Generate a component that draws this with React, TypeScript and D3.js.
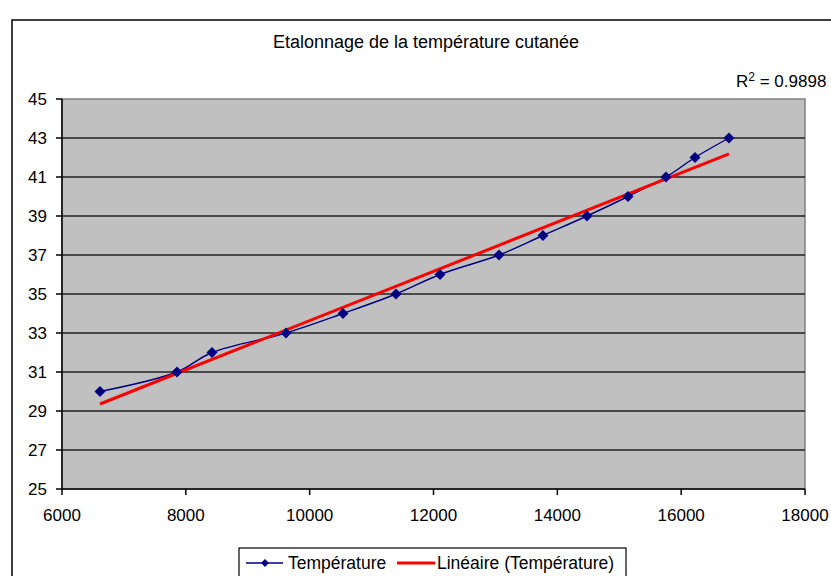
import React from "react";
import * as d3 from "d3";

// readings of the calibration points (sensor value -> temperature °C)
const sensorValues: number[] = [6614, 7857, 8423, 9618, 10538, 11394, 12105, 13058, 13768, 14479, 15141, 15755, 16223, 16772];
const temperatures: number[] = [30, 31, 32, 33, 34, 35, 36, 37, 38, 39, 40, 41, 42, 43];

const xTicks: number[] = [6000, 8000, 10000, 12000, 14000, 16000, 18000];
const yTicks: number[] = [25, 27, 29, 31, 33, 35, 37, 39, 41, 43, 45];

const title = "Etalonnage de la température cutanée";
const seriesName = "Température";
const trendName = "Linéaire (Température)";
const r2Label = "0.9898";

const FONT = "'Liberation Sans', Arial, sans-serif";

export default function App() {
    const width = 831;
    const height = 576;
    const plot = { left: 62, top: 99, right: 805, bottom: 489 };

    const x = d3.scaleLinear().domain([6000, 18000]).range([plot.left, plot.right]);
    const y = d3.scaleLinear().domain([25, 45]).range([plot.bottom, plot.top]);

    // least squares fit, like Excel's linear trendline
    const mx: number = d3.mean(sensorValues)!;
    const my: number = d3.mean(temperatures)!;
    let sxy = 0, sxx = 0;
    sensorValues.forEach((v, i) => {
        sxy += (v - mx) * (temperatures[i] - my);
        sxx += (v - mx) * (v - mx);
    });
    const slope = sxy / sxx;
    const intercept = my - slope * mx;
    const xMin = d3.min(sensorValues)!;
    const xMax = d3.max(sensorValues)!;

    const pts: [number, number][] = sensorValues.map((v, i) => [v, temperatures[i]]);
    const smooth = d3.line<[number, number]>()
        .x(d => x(d[0]))
        .y(d => y(d[1]))
        .curve(d3.curveCatmullRom.alpha(0.5));

    const diamond = (cx: number, cy: number, r: number) =>
        `M${cx},${cy - r}L${cx + r},${cy}L${cx},${cy + r}L${cx - r},${cy}Z`;

    return (
        <svg width={width} height={height} style={{ position: "absolute", left: 0, top: 0, background: "#fff" }}
            fontFamily={FONT}>
            {/* chart frame */}
            <rect x={12} y={20} width={width} height={height} fill="#fff" stroke="#000" strokeWidth={1.5} />

            <text x={426} y={48} textAnchor="middle" fontSize={18} fill="#000">{title}</text>

            <text x={736} y={87} fontSize={17} fill="#000">
                R<tspan dy={-6} fontSize={12}>2</tspan><tspan dy={6}> = {r2Label}</tspan>
            </text>

            {/* plot area */}
            <rect x={plot.left} y={plot.top} width={plot.right - plot.left} height={plot.bottom - plot.top}
                fill="#c0c0c0" stroke="#808080" strokeWidth={1.5} />
            {yTicks.slice(1, -1).map(t => (
                <line key={t} x1={plot.left} x2={plot.right} y1={y(t)} y2={y(t)} stroke="#222" strokeWidth={1.6} />
            ))}

            {/* axes */}
            <line x1={plot.left} x2={plot.left} y1={plot.top} y2={plot.bottom} stroke="#000" strokeWidth={1.5} />
            <line x1={plot.left} x2={plot.right} y1={plot.bottom} y2={plot.bottom} stroke="#000" strokeWidth={1.5} />
            {yTicks.map(t => (
                <g key={t}>
                    <line x1={plot.left - 6} x2={plot.left} y1={y(t)} y2={y(t)} stroke="#000" strokeWidth={1.5} />
                    <text x={47} y={y(t) + 6} textAnchor="end" fontSize={17} fill="#000">{t}</text>
                </g>
            ))}
            {xTicks.map(t => (
                <g key={t}>
                    <line x1={x(t)} x2={x(t)} y1={plot.bottom} y2={plot.bottom + 6} stroke="#000" strokeWidth={1.5} />
                    <text x={x(t)} y={521} textAnchor="middle" fontSize={17} fill="#000">{t}</text>
                </g>
            ))}

            {/* series */}
            <path d={smooth(pts) ?? ""} fill="none" stroke="#000080" strokeWidth={1.4} />
            <line x1={x(xMin)} y1={y(slope * xMin + intercept)} x2={x(xMax)} y2={y(slope * xMax + intercept)}
                stroke="#ff0000" strokeWidth={3} />
            {pts.map((p, i) => (
                <path key={i} d={diamond(x(p[0]), y(p[1]), 5.5)} fill="#000080" />
            ))}

            {/* legend */}
            <rect x={239} y={548} width={387} height={40} fill="#fff" stroke="#000" strokeWidth={1.2} />
            <line x1={246} x2={283} y1={563} y2={563} stroke="#000080" strokeWidth={1.4} />
            <path d={diamond(265, 563, 4)} fill="#000080" />
            <text x={288} y={569} fontSize={17.5} fill="#000">{seriesName}</text>
            <line x1={397} x2={435} y1={563} y2={563} stroke="#ff0000" strokeWidth={3} />
            <text x={437} y={569} fontSize={17.5} fill="#000">{trendName}</text>
        </svg>
    );
}
